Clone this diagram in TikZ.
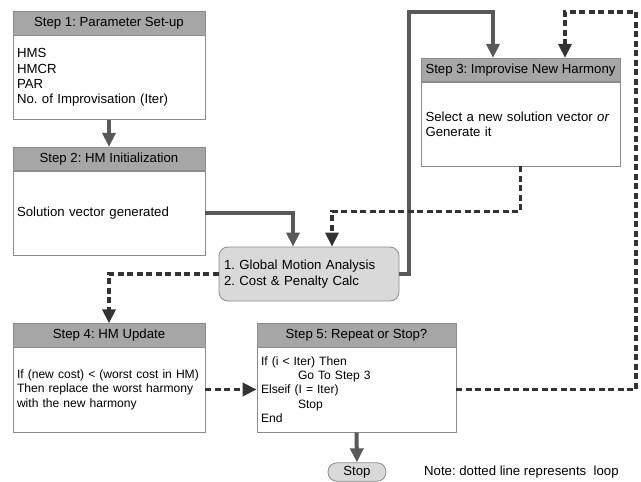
\documentclass[tikz,border=0pt]{standalone}
\usepackage{fontspec}
\setmainfont{Liberation Sans}
\usetikzlibrary{arrows.meta,calc}
\definecolor{hdrfill}{HTML}{A6A6A6}
\definecolor{boxline}{HTML}{8C8C8C}
\definecolor{gmfill}{HTML}{D9D9D9}
\definecolor{solidarr}{HTML}{595959}
\definecolor{dasharr}{HTML}{333333}
\tikzset{
  txt/.style={font=\fontsize{13.2}{15.3}\selectfont\frenchspacing, text=black},
  smalltxt/.style={font=\fontsize{12.1}{14.4}\selectfont\frenchspacing},
  hdrbox/.style={txt, draw=boxline, line width=0.8pt, fill=hdrfill, inner sep=0pt, minimum height=23.5pt},
  bodybox/.style={txt, draw=boxline, line width=0.8pt, fill=white, inner xsep=4pt, inner ysep=0pt, align=left},
  gmbox/.style={txt, draw=boxline, line width=0.8pt, fill=gmfill, rounded corners=9pt, inner xsep=5pt, inner ysep=0pt, align=left},
  stopbox/.style={txt, draw=boxline, line width=0.8pt, fill=gmfill, rounded corners=9pt, inner sep=0pt},
  solidflow/.style={draw=solidarr, line width=4pt, -{Triangle[width=13pt,length=14pt]}},
  loopflow/.style={draw=dasharr, line width=3.5pt, dash pattern=on 6pt off 3.5pt, -{Triangle[width=13pt,length=14pt]}},
}
\begin{document}
\begin{tikzpicture}[x=1pt,y=-1pt]
\useasboundingbox (0,0) rectangle (641,482);
% Step 1
\node[hdrbox, minimum width=192pt] (s1h) at (109,23.5) {Step 1: Parameter Set-up};
\node[bodybox, text width=184pt, minimum height=84.5pt] (s1b) at (109,77.5) {HMS\\HMCR\\PAR\\No. of Improvisation (Iter)};
% Step 2
\node[hdrbox, minimum width=192pt] (s2h) at (109,159) {Step 2: HM Initialization};
\node[bodybox, text width=184pt, minimum height=84pt] (s2b) at (109,213) {Solution vector generated};
% Step 3
\node[hdrbox, minimum width=199pt] (s3h) at (520.5,70) {Step 3: Improvise New Harmony};
\node[bodybox, text width=190pt, inner xsep=4.5pt, minimum height=84pt] (s3b) at (520.5,124) {Select a new solution vector \textit{or}\\Generate it};
% Global
\node[gmbox, text width=170pt, minimum height=54pt] (gm) at (309,274) {1. Global Motion Analysis\\2. Cost \& Penalty Calc};
% Step 4
\node[hdrbox, minimum width=192pt] (s4h) at (109,335.5) {Step 4: HM Update};
\node[bodybox, smalltxt, text width=184pt, minimum height=85pt] (s4b) at (109,389.5) {If (new cost) {<} (worst cost in HM)\\Then replace the worst harmony\\with the new harmony};
% Step 5
\node[hdrbox, minimum width=199pt] (s5h) at (356.5,335.5) {Step 5: Repeat or Stop?};
\node[bodybox, smalltxt, text width=191pt, minimum height=85pt] (s5b) at (356.5,389.5) {If (i {<} Iter) Then\\\hspace*{37pt}Go To Step 3\\Elseif (I = Iter)\\\hspace*{37pt}Stop\\End};
% Stop
\node[stopbox, minimum width=58pt, minimum height=18.5pt] (stop) at (357,472) {Stop};
% Note
\node[txt, anchor=west, inner sep=0pt] (note) at (424,472) {Note: dotted line represents\ \ loop};
% connectors (solid)
\draw[solidflow] (s1b.south) -- (s2h.north);
\draw[solidflow] (s2b.east) -| ([xshift=-16pt]gm.north);
\draw[solidflow] (gm.east) -- ++(10,0) coordinate (gmout) -- (gmout |- 0,12) -| ([xshift=-27.5pt]s3h.north);
\draw[solidflow] (s5b.south) -- (stop.north);
% connectors (dashed loops)
\draw[loopflow] (s3b.south) -- ++(0,45) -| ([xshift=23pt]gm.north);
\draw[loopflow] (gm.west) -| (s4h.north);
\draw[loopflow] (s4b.east) -- (s5b.west);
\draw[loopflow] (s5b.east) -| (636,12) -| ([xshift=44.5pt]s3h.north);
\end{tikzpicture}
\end{document}
